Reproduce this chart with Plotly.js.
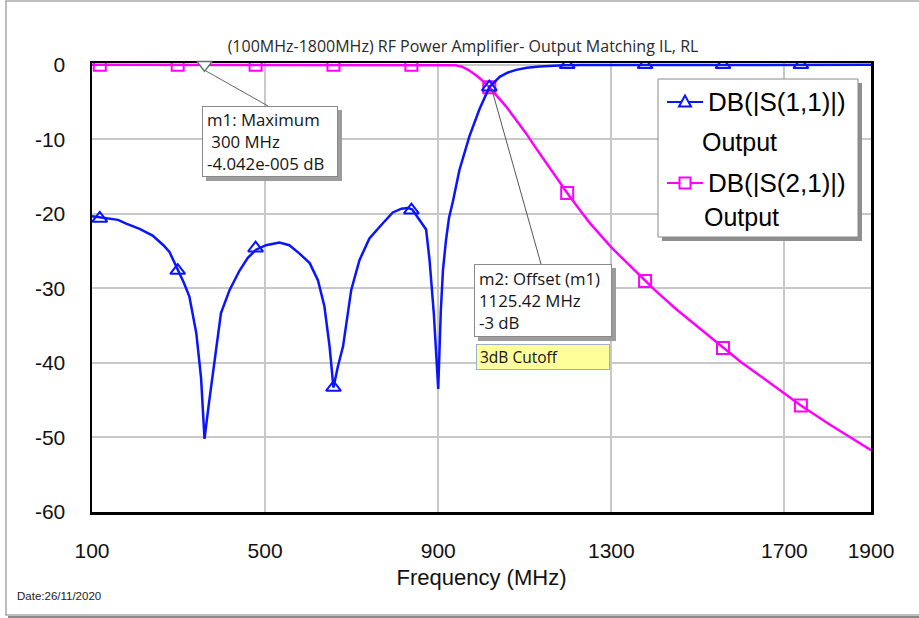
<!DOCTYPE html>
<html>
<head>
<meta charset="utf-8">
<script src="https://cdn.plot.ly/plotly-3.0.1.min.js"></script>
<style>html,body{margin:0;padding:0;background:#fff;}#chart{width:919px;height:618px;}</style>
</head>
<body>
<div id="chart"></div>
<script>
// ---- data ----
const freqS11 = [100,130,160,179,210,240,265,279,298,312,325,341,352,360,370,379,389,398,418,441,460,479,502,533,556,579,603,622,637,649,658,668,680,699,718,741,772,795,815,830,840,857,872,880,890,900,906,911,918,925,934,949,972,995,1018,1042,1060,1080,1105,1134,1160,1190,1230,1300,1400,1500,1600,1700,1800,1900];
const s11Db   = [-20.3,-20.5,-20.8,-21.3,-22.0,-22.9,-24.2,-25.1,-27.4,-29.2,-31.1,-36.0,-42.0,-50.2,-45.5,-41.8,-37.0,-33.3,-30.2,-27.6,-25.9,-24.8,-24.2,-23.85,-24.2,-25.3,-26.6,-28.9,-32.4,-37.8,-43.3,-40.5,-37.8,-30.2,-26.2,-23.3,-21.25,-19.8,-19.3,-19.2,-19.4,-20.8,-22.1,-26.2,-33.5,-43.5,-33.0,-27.5,-23.5,-20.5,-18.3,-14.1,-9.6,-6.0,-3.0,-1.6,-1.05,-0.67,-0.4,-0.22,-0.1,-0.04,-0.01,0,0,0,0,0,0,0];

const freqS21 = [100,200,300,400,500,600,700,800,900,925,940,955,970,985,1000,1018,1035,1057,1080,1103,1125,1150,1175,1198,1225,1250,1300,1350,1378,1400,1450,1500,1558,1600,1650,1700,1738,1800,1850,1900];
const s21Db   = [0,0,0,0,0,0,0,0,0,-0.01,-0.05,-0.25,-0.7,-1.3,-2.0,-3.0,-4.1,-5.6,-7.4,-9.2,-11.1,-13.2,-15.3,-17.2,-19.3,-21.2,-24.5,-27.4,-29.0,-30.2,-32.8,-35.2,-38.0,-39.9,-42.0,-44.1,-45.7,-48.1,-49.9,-51.7];

const markerFreq   = [118,298,478,658,838,1018,1198,1378,1558,1738];
const s11MarkerDb  = [-20.6,-27.6,-24.6,-43.3,-19.5,-3.0,0,0,0,0];
const s21MarkerDb  = [0,0,0,0,0,-3.0,-17.2,-29.0,-38.0,-45.7];

const m1Freq = [360];
const m1Db   = [0];

const xTickVals  = [100,500,900,1300,1700,1900];
const xTickText  = ["100","500","900","1300","1700","1900"];
const yTickVals  = [0,-10,-20,-30,-40,-50,-60];
const yTickText  = ["0","-10","-20","-30","-40","-50","-60"];

const titleText = "(100MHz-1800MHz) RF Power Amplifier- Output Matching IL, RL";
const seriesNames = ["DB(|S(1,1)|)", "DB(|S(2,1)|)"];
const seriesSub = "Output";
const m1Text = "m1: Maximum<br> 300 MHz<br>-4.042e-005 dB";
const m2Text = "m2: Offset (m1)<br>1125.42 MHz<br>-3 dB";
const cutoffText = "3dB Cutoff";
const dateText = "Date:26/11/2020";

// ---- layout helpers (pixel -> paper) ----
const PL = 92, PR = 871, PT = 63, PB = 512;
const X = p => (p - PL) / (PR - PL);
const Y = p => (PB - p) / (PB - PT);

const BLUE = '#0a14ff', PINK = '#ff00ff';
const ARIAL = 'Liberation Sans, Arial, sans-serif';
const SEGOE = 'Open Sans, Noto Sans, sans-serif';

const traces = [
  {x: freqS21, y: s21Db, mode: 'lines', line: {color: PINK, width: 2.5}, hoverinfo: 'skip', showlegend: false},
  {x: markerFreq, y: s21MarkerDb, mode: 'markers', marker: {symbol: 'square-open', size: 12, color: PINK, line: {width: 2, color: PINK}}, hoverinfo: 'skip', showlegend: false},
  {x: freqS11, y: s11Db, mode: 'lines', line: {color: BLUE, width: 2.5}, hoverinfo: 'skip', showlegend: false},
  {x: markerFreq, y: s11MarkerDb, mode: 'markers', marker: {symbol: 'triangle-up-open', size: 13, color: BLUE, line: {width: 2, color: BLUE}}, hoverinfo: 'skip', showlegend: false},
  {x: m1Freq, y: m1Db, mode: 'markers', cliponaxis: false, marker: {symbol: 'triangle-down', size: 13, color: '#ffffff', line: {width: 1.5, color: '#6a6a6a'}}, hoverinfo: 'skip', showlegend: false}
];

function rectPx(x0, y0, x1, y1, fill, line, lw, layer) {
  return {type: 'rect', xref: 'paper', yref: 'paper', x0: X(x0), x1: X(x1), y0: Y(y0), y1: Y(y1),
    fillcolor: fill, line: {color: line, width: lw}, layer: layer || 'above'};
}
function linePx(x0, y0, x1, y1, color, w) {
  return {type: 'line', xref: 'paper', yref: 'paper', x0: X(x0), x1: X(x1), y0: Y(y0), y1: Y(y1),
    line: {color: color, width: w}, layer: 'above'};
}

const shapes = [
  // outer frame
  rectPx(6, 1, 940, 615, 'rgba(0,0,0,0)', '#a8a8a8', 1.5, 'below'),
  linePx(8, 617, 940, 617, '#8a8a8a', 2),
  // marker boxes shadows
  rectPx(206, 110, 342, 181, '#9c9c9c', '#9c9c9c', 0),
  rectPx(478, 268, 616, 341, '#9c9c9c', '#9c9c9c', 0),
  // leader lines
  linePx(206, 71, 268, 106, '#666666', 1),
  linePx(492, 90, 541, 264, '#555555', 1),
  // legend
  rectPx(662, 83, 862, 241, '#8e8e8e', '#8e8e8e', 0),
  rectPx(658, 79, 858, 237, '#ffffff', '#8a8a8a', 1),
  linePx(667, 102, 703, 102, BLUE, 2),
  {type: 'path', xref: 'paper', yref: 'paper', layer: 'above',
   path: 'M ' + X(685) + ' ' + Y(95.5) + ' L ' + X(679) + ' ' + Y(106.5) + ' L ' + X(691) + ' ' + Y(106.5) + ' Z',
   fillcolor: '#ffffff', line: {color: BLUE, width: 2}},
  linePx(667, 183, 703, 183, PINK, 2),
  rectPx(679.5, 177.5, 690.5, 188.5, '#ffffff', PINK, 2)
];

const annotations = [
  {xref: 'paper', yref: 'paper', x: X(202), y: Y(106), xanchor: 'left', yanchor: 'top', text: m1Text,
   showarrow: false, align: 'left', valign: 'middle', width: 126, height: 61, borderpad: 4,
   bgcolor: '#ffffff', bordercolor: '#8a8a8a', borderwidth: 1, font: {family: SEGOE, size: 16.8, color: '#151515'}},
  {xref: 'paper', yref: 'paper', x: X(474), y: Y(264), xanchor: 'left', yanchor: 'top', text: m2Text,
   showarrow: false, align: 'left', valign: 'middle', width: 128, height: 63, borderpad: 4,
   bgcolor: '#ffffff', bordercolor: '#8a8a8a', borderwidth: 1, font: {family: SEGOE, size: 16.8, color: '#151515'}},
  {xref: 'paper', yref: 'paper', x: X(476), y: Y(344), xanchor: 'left', yanchor: 'top', text: cutoffText,
   showarrow: false, align: 'left', valign: 'middle', width: 126, height: 18, borderpad: 3,
   bgcolor: '#ffff99', bordercolor: '#9db0c8', borderwidth: 1, font: {family: SEGOE, size: 15.5, color: '#151515'}},
  // legend texts
  {xref: 'paper', yref: 'paper', x: X(706), y: Y(102), xanchor: 'left', yanchor: 'middle', text: seriesNames[0],
   showarrow: false, font: {family: ARIAL, size: 26, color: '#000'}},
  {xref: 'paper', yref: 'paper', x: X(700), y: Y(142), xanchor: 'left', yanchor: 'middle', text: seriesSub,
   showarrow: false, font: {family: ARIAL, size: 25, color: '#000'}},
  {xref: 'paper', yref: 'paper', x: X(706), y: Y(183), xanchor: 'left', yanchor: 'middle', text: seriesNames[1],
   showarrow: false, font: {family: ARIAL, size: 26, color: '#000'}},
  {xref: 'paper', yref: 'paper', x: X(702), y: Y(217), xanchor: 'left', yanchor: 'middle', text: seriesSub,
   showarrow: false, font: {family: ARIAL, size: 25, color: '#000'}},
  // date
  {xref: 'paper', yref: 'paper', x: X(15), y: Y(596), xanchor: 'left', yanchor: 'middle', text: dateText,
   showarrow: false, font: {family: ARIAL, size: 11.5, color: '#1a1a1a'}}
];

const layout = {
  width: 919, height: 618,
  margin: {l: PL, r: 919 - PR, t: PT, b: 618 - PB, pad: 0},
  paper_bgcolor: '#ffffff', plot_bgcolor: '#ffffff',
  showlegend: false,
  title: {text: titleText, x: 463 / 919, xanchor: 'center', xref: 'container', y: 1 - 46 / 618, yanchor: 'middle', yref: 'container',
          font: {family: SEGOE, size: 16, color: '#2a2a2a'}},
  xaxis: {range: [100, 1900], tickvals: xTickVals, ticktext: xTickText, showgrid: true, gridcolor: '#c8c8c8', gridwidth: 2,
          zeroline: false, showline: true, linecolor: '#000', linewidth: 2.5, mirror: true, layer: 'below traces',
          ticks: '', ticklabelstandoff: 18, tickfont: {family: ARIAL, size: 21, color: '#111'},
          title: {text: 'Frequency (MHz)', standoff: 9, font: {family: ARIAL, size: 22, color: '#111'}}},
  yaxis: {range: [-60, 0.25], tickvals: yTickVals, ticktext: yTickText, showgrid: true, gridcolor: '#c8c8c8', gridwidth: 2,
          zeroline: false, showline: true, linecolor: '#000', linewidth: 2.5, mirror: true, layer: 'below traces',
          ticks: '', ticklabelstandoff: 20, tickfont: {family: ARIAL, size: 21, color: '#111'}},
  shapes: shapes,
  annotations: annotations
};

Plotly.newPlot('chart', traces, layout, {displayModeBar: false, staticPlot: true});
</script>
</body>
</html>
